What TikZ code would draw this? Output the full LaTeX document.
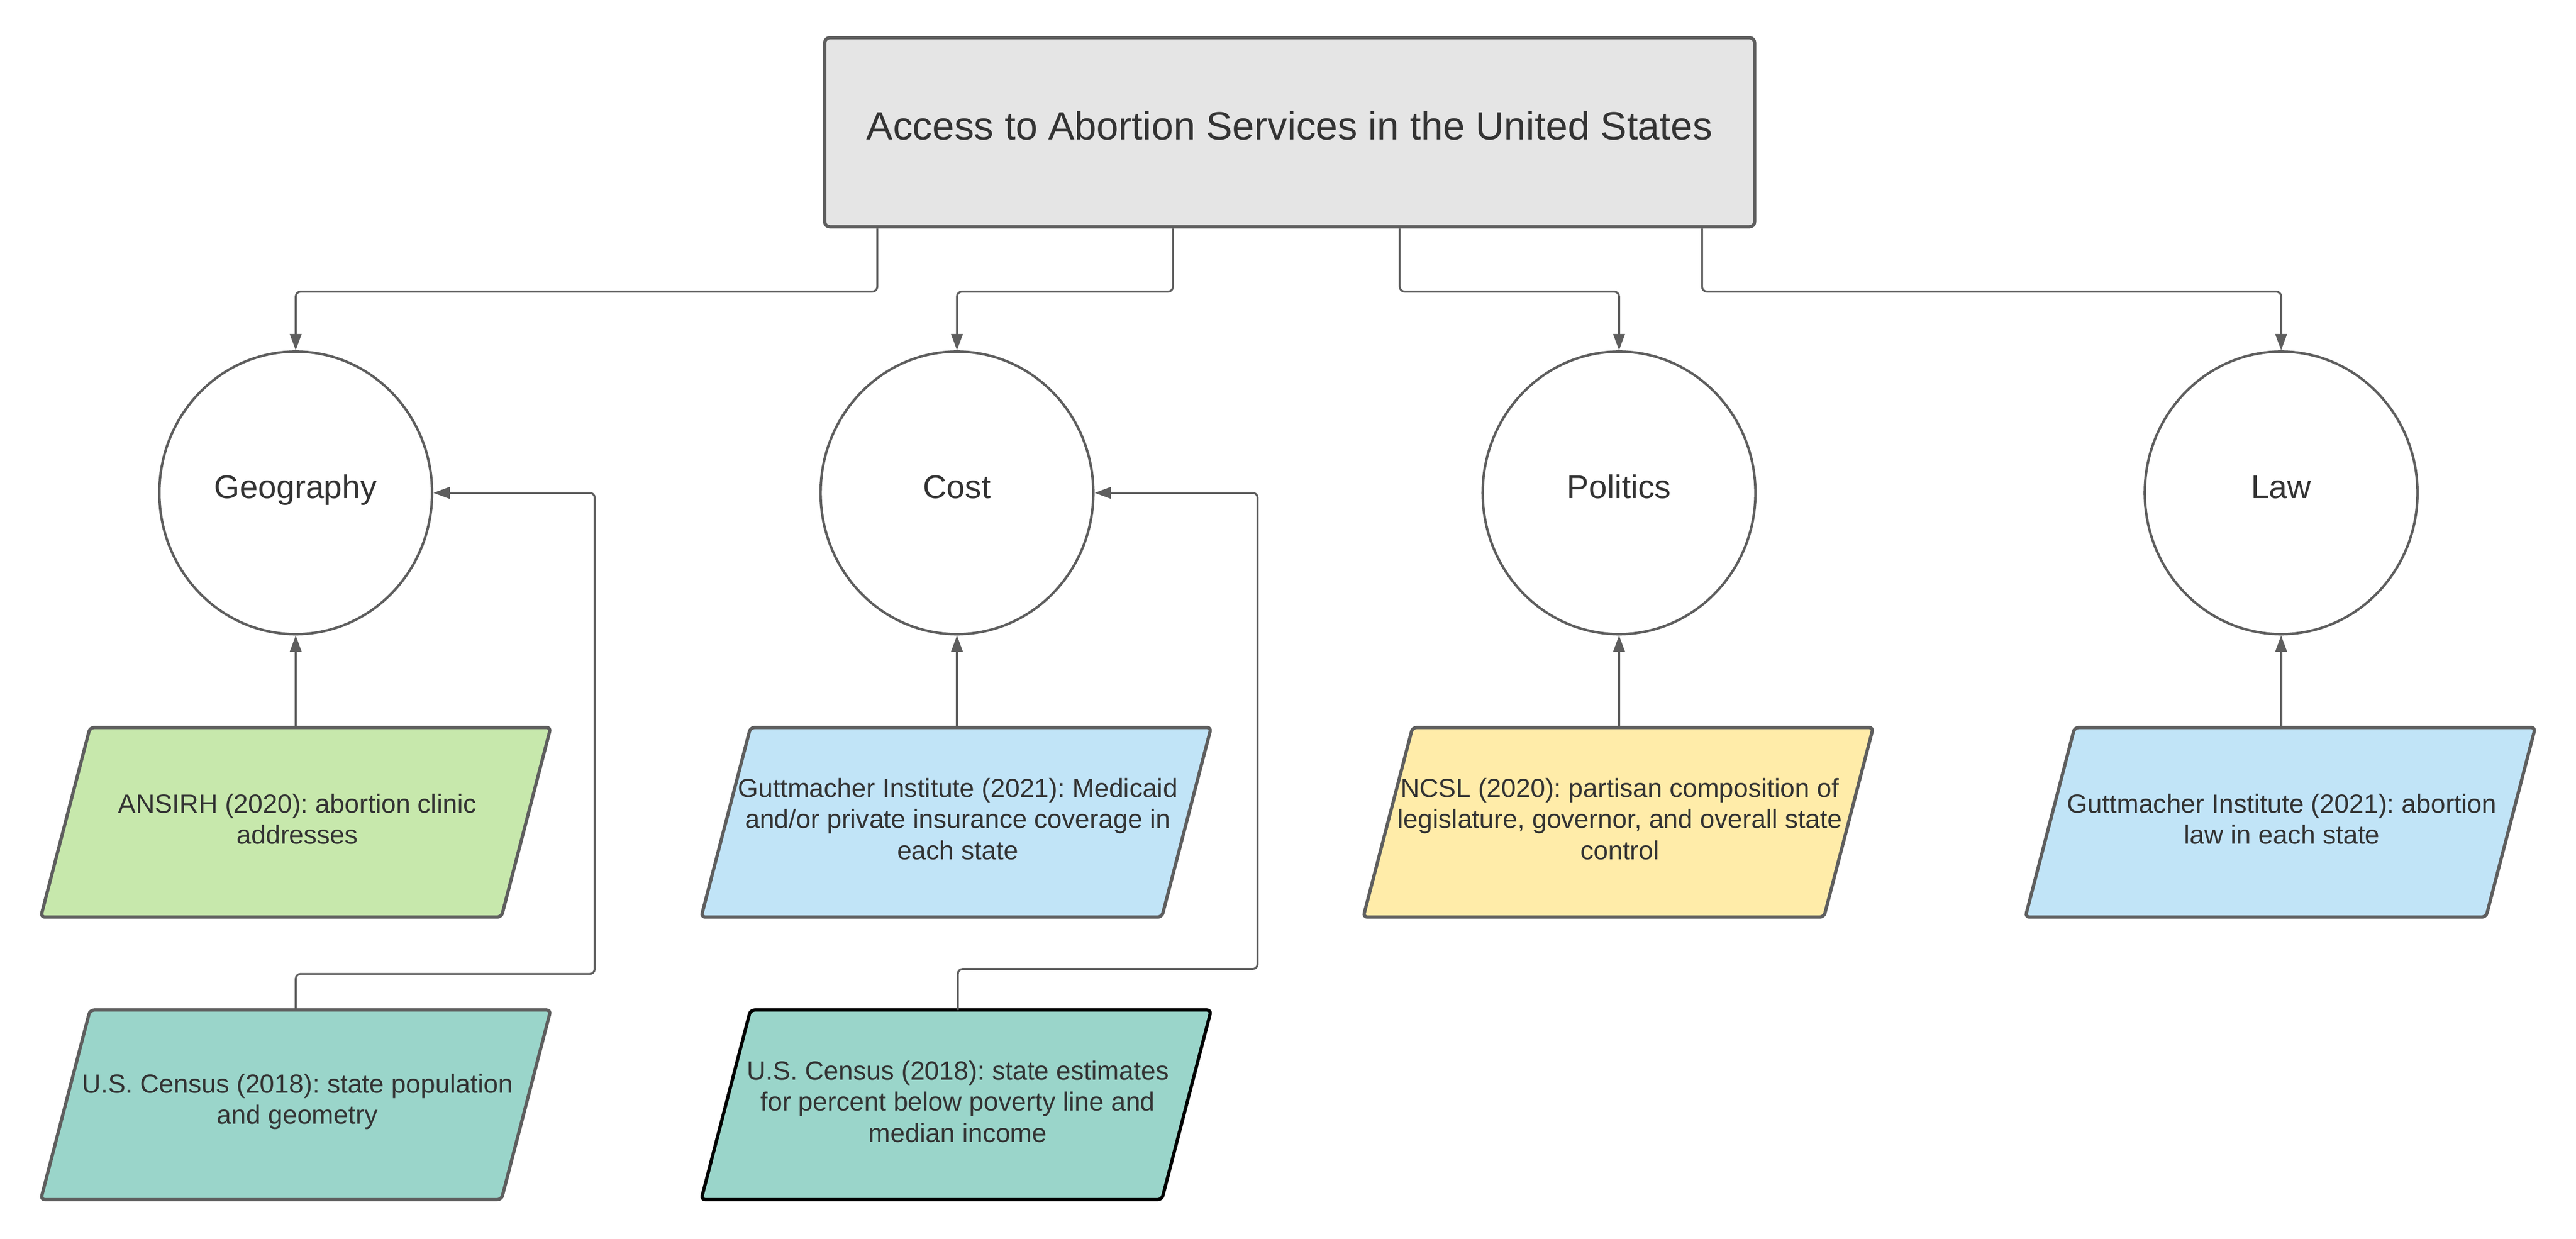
\documentclass[tikz,border=0pt]{standalone}
\usepackage{fontspec}
\setmainfont{Liberation Sans}
\usetikzlibrary{shapes.geometric,arrows.meta,backgrounds}
\definecolor{linegray}{HTML}{5E5E5E}
\definecolor{txt}{HTML}{333333}
\definecolor{titlefill}{HTML}{E5E5E5}
\definecolor{greenfill}{HTML}{C7E8AC}
\definecolor{bluefill}{HTML}{C1E4F7}
\definecolor{yellowfill}{HTML}{FFECA9}
\definecolor{tealfill}{HTML}{9AD5CA}
\frenchspacing
\begin{document}
\begin{tikzpicture}[x=1pt,y=-1pt,
  titlebox/.style={draw=linegray, line width=2pt, fill=titlefill, rounded corners=3pt,
    minimum width=566pt, minimum height=115pt, inner sep=0pt, text=txt,
    text height=17pt, text depth=8pt,
    font=\fontsize{24}{29}\selectfont},
  topic/.style={ellipse, draw=linegray, line width=1.5pt, fill=white,
    minimum width=166pt, minimum height=172pt, inner sep=0pt, text=txt,
    text height=14pt, text depth=7pt,
    font=\fontsize{20}{24}\selectfont},
  source/.style={rectangle, minimum width=280pt, minimum height=115pt, inner sep=0pt,
    align=center, text=txt, font=\fontsize{16}{19}\selectfont},
  para/.style={line width=2pt, rounded corners=2.5pt},
  conn/.style={draw=linegray, line width=1.2pt, rounded corners=3pt,
    -{Triangle[length=10pt,width=7pt]}}
]
\useasboundingbox (0,0) rectangle (1568,754);

\node[titlebox] (title) at (785,80.5) {Access to Abortion Services in the United States};

\node[topic] (geo) at (180,300) {Geography};
\node[topic] (cost) at (582.5,300) {Cost};
\node[topic] (pol) at (985.5,300) {Politics};
\node[topic] (law) at (1388.5,300) {Law};

% text nodes sit 2pt above the centre of their parallelograms
\node[source] (ansirh) at (181,498.5) {ANSIRH (2020): abortion clinic\\addresses};
\node[source] (gutt1) at (583,498.5) {Guttmacher Institute (2021): Medicaid\\and/or private insurance coverage in\\each state};
\node[source] (ncsl) at (986,498.5) {NCSL (2020): partisan composition of\\legislature, governor, and overall state\\control};
\node[source] (gutt2) at (1389,498.5) {Guttmacher Institute (2021): abortion\\law in each state};

\node[source] (census1) at (181,670.5) {U.S. Census (2018): state population\\and geometry};
\node[source] (census2) at (583,670.5) {U.S. Census (2018): state estimates\\for percent below poverty line and\\median income};

\begin{pgfonlayer}{background}
\foreach \n/\c/\d in {ansirh/greenfill/linegray, gutt1/bluefill/linegray,
    ncsl/yellowfill/linegray, gutt2/bluefill/linegray,
    census1/tealfill/linegray, census2/tealfill/black}
  \draw[para, fill=\c, draw=\d]
    ([shift={(-16pt,-2pt)}]\n.south west) -- ([shift={(-16pt,-2pt)}]\n.south east)
    -- ([shift={(14pt,-2pt)}]\n.north east) -- ([shift={(14pt,-2pt)}]\n.north west) -- cycle;
\end{pgfonlayer}

% title to topics
\draw[conn] ([xshift=33pt]title.south west) -- ++(0,38.5) -| (geo.north);
\draw[conn] ([xshift=213pt]title.south west) -- ++(0,38.5) -| (cost.north);
\draw[conn] ([xshift=351pt]title.south west) -- ++(0,38.5) -| (pol.north);
\draw[conn] ([xshift=535pt]title.south west) -- ++(0,38.5) -| (law.north);

% sources to topics
\draw[conn] ([shift={(-1pt,-2pt)}]ansirh.north) -- (geo.south);
\draw[conn] ([shift={(-0.5pt,-2pt)}]gutt1.north) -- (cost.south);
\draw[conn] ([shift={(-0.5pt,-2pt)}]ncsl.north) -- (pol.south);
\draw[conn] ([shift={(-0.5pt,-2pt)}]gutt2.north) -- (law.south);

\draw[conn] ([shift={(-1pt,-2pt)}]census1.north) -- ++(0,-22) -- ++(182,0) |- (geo.east);
\draw[conn] ([shift={(0pt,-2pt)}]census2.north) -- ++(0,-25) -- ++(182.5,0) |- (cost.east);
\end{tikzpicture}
\end{document}
